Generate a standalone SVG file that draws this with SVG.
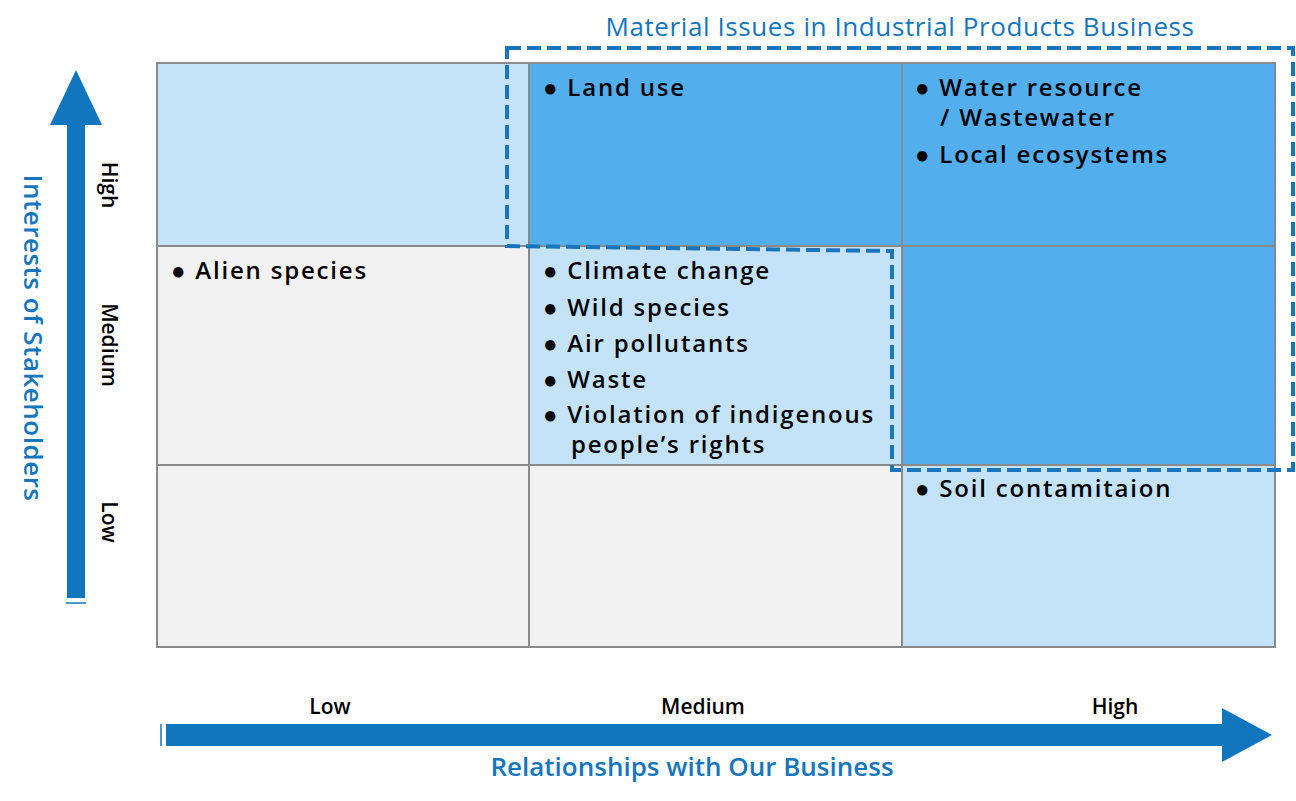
<svg xmlns="http://www.w3.org/2000/svg" width="1296" height="801" viewBox="0 0 1296 801">
<style>
.c{stroke:#8a8a8a;stroke-width:2}
.lb{fill:#c5e3f8}.db{fill:#53aeee}.gr{fill:#f2f2f2}
.t{font-family:"Open Sans","Noto Sans",sans-serif;font-size:24px;fill:#000;font-weight:600;letter-spacing:1.8px}
.a{font-family:"Open Sans","Noto Sans",sans-serif;font-size:21px;fill:#000;font-weight:600}
.b{font-family:"Open Sans","Noto Sans",sans-serif;font-size:26px;fill:#1576bd}
</style>
<rect width="1296" height="801" fill="#fff"/>
<g id="cells">
<rect id="c1" class="c lb" x="157" y="63" width="372" height="183"/>
<rect id="c2" class="c db" x="529" y="63" width="373" height="183"/>
<rect id="c3" class="c db" x="902" y="63" width="373" height="183"/>
<rect id="c4" class="c gr" x="157" y="246" width="372" height="219"/>
<rect id="c5" class="c lb" x="529" y="246" width="373" height="219"/>
<rect id="c6" class="c db" x="902" y="246" width="373" height="219"/>
<rect id="c7" class="c gr" x="157" y="465" width="372" height="182"/>
<rect id="c8" class="c gr" x="529" y="465" width="373" height="182"/>
<rect id="c9" class="c lb" x="902" y="465" width="373" height="182"/>
</g>
<g id="items" class="t">
<text x="543" y="96">● Land use</text>
<text x="915" y="96">● Water  resource</text>
<text x="940" y="126">/ Wastewater</text>
<text x="915" y="163">● Local ecosystems</text>
<text x="171" y="279">● Alien species</text>
<text x="543" y="279">● Climate change</text>
<text x="543" y="316">● Wild species</text>
<text x="543" y="352">● Air pollutants</text>
<text x="543" y="388">● Waste</text>
<text x="543" y="423">● Violation of indigenous</text>
<text x="571" y="453">people’s rights</text>
<text x="915" y="497">● Soil contamitaion</text>
</g>
<g id="highlight">
<polygon points="507,48 1293,48 1293,470 892,470 892,251 507,246" fill="none" stroke="#1a75bc" stroke-width="4" stroke-dasharray="14,6"/>
<text class="b" x="900" y="36" text-anchor="middle" letter-spacing="0.6">Material Issues in Industrial Products Business</text>
</g>
<g id="connectors">
<polygon points="67,598 67,125 50,125 76,70 102,125 85,125 85,598" fill="#1176bd"/>
<line x1="66" y1="603" x2="86" y2="603" stroke="#1176bd" stroke-width="1.5"/>
<polygon points="166,724 1222,724 1222,708 1272,735 1222,762 1222,746 166,746" fill="#1176bd"/>
<line x1="161" y1="724" x2="161" y2="746" stroke="#1176bd" stroke-width="1.5"/>
</g>
<g id="axislabels">
<text class="a" transform="translate(102,185) rotate(90)" text-anchor="middle">High</text>
<text class="a" transform="translate(102,345) rotate(90)" text-anchor="middle">Medium</text>
<text class="a" transform="translate(102,522) rotate(90)" text-anchor="middle">Low</text>
<text class="b" transform="translate(24,338) rotate(90)" text-anchor="middle" font-weight="600" letter-spacing="0.5">Interests of Stakeholders</text>
<text class="a" x="330" y="714" text-anchor="middle">Low</text>
<text class="a" x="703" y="714" text-anchor="middle">Medium</text>
<text class="a" x="1115" y="714" text-anchor="middle">High</text>
<text class="b" x="692" y="776" text-anchor="middle" font-weight="600">Relationships with Our Business</text>
</g>
</svg>
